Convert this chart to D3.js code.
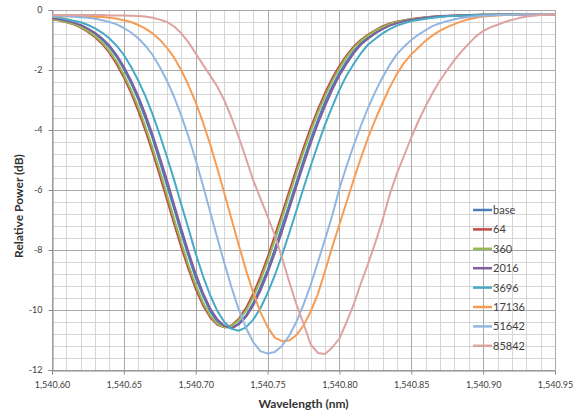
<!DOCTYPE html>
<html><head><meta charset="utf-8">
<script src="https://cdn.jsdelivr.net/npm/d3@7"></script>
<style>
body{margin:0;background:#fff}
svg{display:block}
text{font-family:Lato,"Open Sans",sans-serif}
</style>
</head><body>
<svg id="chart" width="578" height="416"></svg>
<script>
const wavelengths=[1540.600,1540.605,1540.610,1540.615,1540.620,1540.625,1540.630,1540.635,1540.640,1540.645,
1540.650,1540.655,1540.660,1540.665,1540.670,1540.675,1540.680,1540.685,1540.690,1540.695,
1540.700,1540.705,1540.710,1540.715,1540.720,1540.725,1540.730,1540.735,1540.740,1540.745,
1540.750,1540.755,1540.760,1540.765,1540.770,1540.775,1540.780,1540.785,1540.790,1540.795,
1540.800,1540.805,1540.810,1540.815,1540.820,1540.825,1540.830,1540.835,1540.840,1540.845,
1540.850,1540.855,1540.860,1540.865,1540.870,1540.875,1540.880,1540.885,1540.890,1540.895,
1540.900,1540.905,1540.910,1540.915,1540.920,1540.925,1540.930,1540.935,1540.940,1540.945,1540.950];

const seriesNames=["base","64","360","2016","3696","17136","51642","85842"];

const sBase=[-0.28,-0.32,-0.37,-0.43,-0.52,-0.64,-0.79,-0.99,-1.24,-1.56,
-1.97,-2.44,-2.98,-3.61,-4.28,-5.05,-5.85,-6.63,-7.45,-8.21,
-8.93,-9.52,-10.04,-10.38,-10.57,-10.59,-10.45,-10.18,-9.77,-9.24,
-8.66,-7.97,-7.22,-6.49,-5.75,-5.01,-4.30,-3.66,-3.06,-2.55,
-2.09,-1.71,-1.37,-1.10,-0.92,-0.75,-0.61,-0.50,-0.42,-0.36,
-0.32,-0.28,-0.25,-0.23,-0.21,-0.20,-0.19,-0.18,-0.17,-0.17,
-0.16,-0.16,-0.16,-0.15,-0.15,-0.15,-0.15,-0.15,-0.14,-0.14,-0.14];

const s64=[-0.31,-0.35,-0.41,-0.48,-0.59,-0.73,-0.91,-1.14,-1.43,-1.81,
-2.25,-2.76,-3.36,-4.02,-4.75,-5.52,-6.32,-7.13,-7.92,-8.65,
-9.30,-9.84,-10.24,-10.49,-10.58,-10.51,-10.29,-9.93,-9.46,-8.89,
-8.24,-7.53,-6.79,-6.04,-5.30,-4.59,-3.92,-3.31,-2.76,-2.27,
-1.86,-1.51,-1.21,-0.99,-0.82,-0.67,-0.54,-0.45,-0.38,-0.34,
-0.30,-0.27,-0.24,-0.22,-0.20,-0.19,-0.18,-0.17,-0.17,-0.16,
-0.16,-0.16,-0.15,-0.15,-0.15,-0.15,-0.14,-0.14,-0.14,-0.14,-0.14];

const s360=[-0.30,-0.34,-0.40,-0.47,-0.57,-0.70,-0.87,-1.09,-1.37,-1.72,
-2.16,-2.66,-3.23,-3.89,-4.60,-5.36,-6.16,-6.97,-7.76,-8.51,
-9.17,-9.74,-10.18,-10.46,-10.58,-10.53,-10.34,-10.02,-9.57,-9.02,
-8.38,-7.68,-6.94,-6.19,-5.45,-4.73,-4.05,-3.43,-2.87,-2.37,
-1.94,-1.57,-1.26,-1.03,-0.85,-0.69,-0.57,-0.47,-0.40,-0.34,
-0.31,-0.28,-0.25,-0.23,-0.21,-0.20,-0.19,-0.18,-0.17,-0.17,
-0.16,-0.16,-0.15,-0.15,-0.15,-0.15,-0.15,-0.14,-0.14,-0.14,-0.14];

const s2016=[-0.27,-0.31,-0.36,-0.42,-0.50,-0.62,-0.76,-0.95,-1.19,-1.50,
-1.89,-2.35,-2.87,-3.48,-4.16,-4.90,-5.67,-6.49,-7.29,-8.07,
-8.79,-9.42,-9.94,-10.31,-10.53,-10.61,-10.48,-10.23,-9.85,-9.36,
-8.77,-8.11,-7.39,-6.64,-5.89,-5.16,-4.45,-3.79,-3.20,-2.66,
-2.18,-1.79,-1.44,-1.15,-0.96,-0.78,-0.64,-0.52,-0.44,-0.37,
-0.33,-0.29,-0.26,-0.23,-0.21,-0.20,-0.19,-0.18,-0.17,-0.17,
-0.16,-0.16,-0.16,-0.15,-0.15,-0.15,-0.15,-0.14,-0.14,-0.14,-0.14];

const s3696=[-0.22,-0.26,-0.31,-0.36,-0.41,-0.50,-0.61,-0.76,-0.95,-1.19,
-1.50,-1.89,-2.35,-2.87,-3.48,-4.16,-4.90,-5.67,-6.49,-7.29,
-8.12,-8.86,-9.50,-10.03,-10.41,-10.63,-10.69,-10.58,-10.32,-9.94,
-9.44,-8.85,-8.18,-7.45,-6.70,-5.94,-5.20,-4.49,-3.82,-3.22,
-2.66,-2.18,-1.79,-1.44,-1.15,-0.96,-0.78,-0.64,-0.52,-0.44,
-0.37,-0.33,-0.29,-0.26,-0.23,-0.21,-0.20,-0.19,-0.18,-0.17,
-0.17,-0.16,-0.16,-0.15,-0.15,-0.15,-0.15,-0.14,-0.14,-0.14,-0.14];

const s17136=[-0.22,-0.22,-0.22,-0.22,-0.22,-0.22,-0.23,-0.23,-0.26,-0.29,
-0.34,-0.40,-0.50,-0.62,-0.78,-0.99,-1.26,-1.59,-2.01,-2.51,
-3.08,-3.74,-4.47,-5.27,-6.12,-6.98,-7.84,-8.67,-9.42,-10.07,
-10.57,-10.92,-11.04,-11.02,-10.84,-10.52,-10.05,-9.47,-8.70,-7.90,
-7.15,-6.40,-5.64,-4.92,-4.25,-3.65,-3.10,-2.58,-2.13,-1.76,
-1.48,-1.25,-1.02,-0.84,-0.69,-0.57,-0.47,-0.38,-0.31,-0.26,
-0.22,-0.20,-0.18,-0.17,-0.16,-0.16,-0.15,-0.15,-0.15,-0.14,-0.14];

const s51642=[-0.20,-0.20,-0.20,-0.22,-0.24,-0.26,-0.29,-0.34,-0.40,-0.48,
-0.60,-0.75,-0.94,-1.19,-1.50,-1.90,-2.36,-2.90,-3.53,-4.23,
-5.00,-5.84,-6.72,-7.59,-8.45,-9.26,-9.99,-10.60,-11.07,-11.37,
-11.45,-11.40,-11.20,-10.86,-10.40,-9.82,-9.16,-8.41,-7.64,-6.85,
-5.95,-5.20,-4.50,-3.85,-3.25,-2.72,-2.24,-1.83,-1.47,-1.22,
-1.00,-0.82,-0.67,-0.53,-0.44,-0.37,-0.31,-0.27,-0.23,-0.21,
-0.19,-0.18,-0.17,-0.16,-0.16,-0.15,-0.15,-0.15,-0.14,-0.14,-0.14];

const s85842=[-0.17,-0.17,-0.17,-0.17,-0.17,-0.17,-0.17,-0.17,-0.18,-0.18,
-0.18,-0.19,-0.20,-0.22,-0.26,-0.32,-0.40,-0.55,-0.78,-1.08,
-1.45,-1.82,-2.18,-2.55,-3.02,-3.60,-4.25,-4.95,-5.67,-6.28,
-6.88,-7.50,-8.25,-9.05,-9.80,-10.45,-11.15,-11.43,-11.47,-11.25,
-10.95,-10.40,-9.80,-9.10,-8.45,-7.75,-7.00,-6.15,-5.45,-4.85,
-4.25,-3.70,-3.20,-2.75,-2.35,-2.00,-1.67,-1.38,-1.12,-0.88,
-0.70,-0.58,-0.49,-0.40,-0.33,-0.27,-0.22,-0.19,-0.17,-0.16,-0.15];

const xTickValues=[1540.60,1540.65,1540.70,1540.75,1540.80,1540.85,1540.90,1540.95];
const xTickLabels=["1,540.60","1,540.65","1,540.70","1,540.75","1,540.80","1,540.85","1,540.90","1,540.95"];
const yTickValues=[0,-2,-4,-6,-8,-10,-12];
const yTickLabels=["0","-2","-4","-6","-8","-10","-12"];

const seriesValues=[sBase,s64,s360,s2016,s3696,s17136,s51642,s85842];
const colors=["#4a7ebb","#be4b48","#98b954","#7d60a0","#46aac5","#f59d56","#93b6e0","#dea2a1"];

const svg=d3.select("#chart");
const mLeft=52,mRight=555,mTop=10,mBottom=370;
const x=d3.scaleLinear().domain([1540.60,1540.95]).range([mLeft,mRight]);
const y=d3.scaleLinear().domain([-12,0]).range([mBottom,mTop]);

// minor grid
const g=svg.append("g");
const xMinor=d3.range(36).map(i=>1540.60+i*0.01);
const yMinor=d3.range(31).map(i=>-12+i*0.4);
g.selectAll("line.vx").data(xMinor).join("line")
 .attr("x1",d=>Math.round(x(d))+0.5).attr("x2",d=>Math.round(x(d))+0.5)
 .attr("y1",mTop).attr("y2",mBottom).attr("stroke","#d6d6d6").attr("stroke-width",1);
g.selectAll("line.hy").data(yMinor).join("line")
 .attr("y1",d=>Math.round(y(d))+0.5).attr("y2",d=>Math.round(y(d))+0.5)
 .attr("x1",mLeft).attr("x2",mRight).attr("stroke","#d6d6d6").attr("stroke-width",1);
// major grid
g.selectAll("line.mx").data(xTickValues).join("line")
 .attr("x1",d=>Math.round(x(d))+0.5).attr("x2",d=>Math.round(x(d))+0.5)
 .attr("y1",mTop).attr("y2",mBottom).attr("stroke","#a8a8a8").attr("stroke-width",1);
g.selectAll("line.my").data(yTickValues).join("line")
 .attr("y1",d=>Math.round(y(d))+0.5).attr("y2",d=>Math.round(y(d))+0.5)
 .attr("x1",mLeft).attr("x2",mRight).attr("stroke","#a8a8a8").attr("stroke-width",1);

// axes
const xAxis=d3.axisBottom(x).tickValues(xTickValues).tickFormat((d,i)=>xTickLabels[i]).tickSize(4).tickPadding(7);
const yAxis=d3.axisLeft(y).tickValues(yTickValues).tickFormat((d,i)=>yTickLabels[i]).tickSize(4).tickPadding(6);
const gx=svg.append("g").attr("transform",`translate(0,${mBottom+0.5})`).call(xAxis);
const gy=svg.append("g").attr("transform",`translate(${mLeft+0.5},0)`).call(yAxis);
[gx,gy].forEach(a=>{
  a.select(".domain").attr("stroke","#8c8c8c");
  a.selectAll(".tick line").attr("stroke","#8c8c8c");
  a.selectAll(".tick text").attr("fill","#404040").style("font-size","9px").style("font-family","Lato,'Open Sans',sans-serif");
});

// lines
const line=d3.line().x((d,i)=>x(wavelengths[i])).y(d=>y(d));
seriesValues.forEach((vals,k)=>{
  svg.append("path").datum(vals).attr("d",line)
   .attr("fill","none").attr("stroke",colors[k]).attr("stroke-width",2)
   .attr("stroke-linejoin","round");
});

// legend
const lg=svg.append("g");
seriesNames.forEach((n,k)=>{
  const yy=210+k*19.4;
  lg.append("line").attr("x1",473).attr("x2",492).attr("y1",yy).attr("y2",yy)
    .attr("stroke",colors[k]).attr("stroke-width",2.5);
  lg.append("text").attr("x",493).attr("y",yy+4).text(n)
    .attr("fill","#404040").style("font-size","11px");
});

// titles
svg.append("text").attr("x",(mLeft+mRight)/2).attr("y",408).attr("text-anchor","middle")
  .style("font-size","12px").style("font-weight","bold").attr("fill","#333").text("Wavelength (nm)");
svg.append("text").attr("transform",`translate(23,206) rotate(-90)`).attr("text-anchor","middle")
  .style("font-size","12px").style("font-weight","bold").attr("fill","#333").text("Relative Power (dB)");
</script>
</body></html>
